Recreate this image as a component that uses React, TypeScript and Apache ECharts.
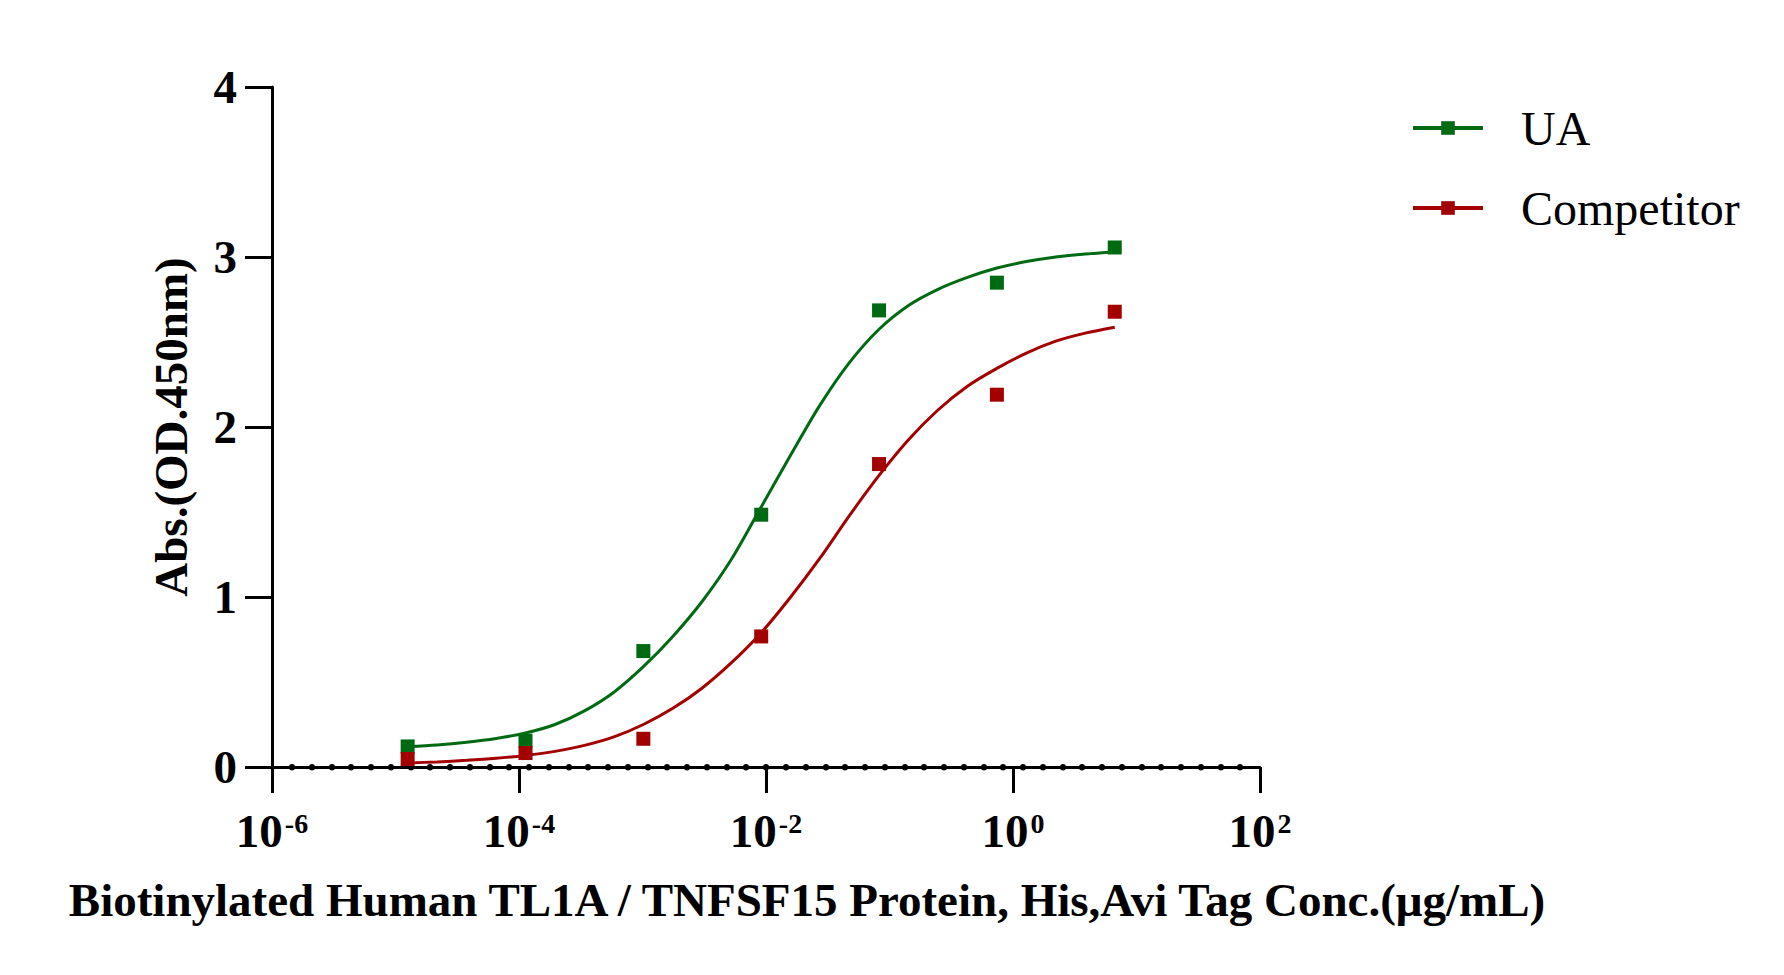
import React, { useEffect, useRef } from "react";
import * as echarts from "echarts";

// Concentrations (µg/mL) of the measured points
const concentrations = [1.254e-5, 1.129e-4, 1.016e-3, 9.145e-3, 0.0823, 0.7407, 6.667];
const uaValues = [0.121, 0.155, 0.682, 1.484, 2.686, 2.849, 3.056];
const competitorValues = [0.047, 0.082, 0.166, 0.768, 1.782, 2.19, 2.678];

// Fitted curves
const curveConc = [
  1.254e-5, 2.173e-5, 3.764e-5, 6.519e-5, 1.129e-4, 1.956e-4, 3.387e-4, 5.867e-4,
  1.016e-3, 1.76e-3, 3.048e-3, 5.28e-3, 9.145e-3, 1.584e-2, 2.743e-2, 4.751e-2,
  8.23e-2, 0.1425, 0.2469, 0.4276, 0.7407, 1.283, 2.222, 3.849, 6.667,
];
const uaCurve = [
  0.12, 0.13, 0.146, 0.168, 0.2, 0.25, 0.33, 0.44, 0.59, 0.768, 0.975, 1.225,
  1.53, 1.835, 2.13, 2.38, 2.575, 2.715, 2.81, 2.88, 2.935, 2.973, 3.0, 3.018, 3.03,
];
const competitorCurve = [
  0.024, 0.03, 0.039, 0.051, 0.068, 0.092, 0.127, 0.177, 0.25, 0.345, 0.465, 0.615,
  0.79, 1.0, 1.23, 1.48, 1.715, 1.925, 2.1, 2.24, 2.345, 2.435, 2.505, 2.552, 2.587,
];

const seriesNames = ["UA", "Competitor"];
const yTicks = { min: 0, max: 4, interval: 1 };
const xRange = { min: 1e-6, max: 1e2, interval: 2 };
const xTitle = "Biotinylated Human TL1A / TNFSF15 Protein, His,Avi Tag Conc.(μg/mL)";
const yTitle = "Abs.(OD.450nm)";

const GREEN = "#006A12";
const RED = "#A30000";
const FONT = "'Liberation Serif', 'Times New Roman', serif";

export default function App() {
  const ref = useRef<HTMLDivElement>(null);

  useEffect(() => {
    document.body.style.margin = "0";
    if (!ref.current) return;
    const chart = echarts.init(ref.current, null, { renderer: "svg" });

    const pairs = (xs: number[], ys: number[]) => xs.map((x, i) => [x, ys[i]]);

    const option: any = {
      animation: false,
      backgroundColor: "#ffffff",
      grid: { left: 272, right: 524, top: 87, bottom: 208, containLabel: false },
      legend: {
        data: seriesNames,
        orient: "vertical",
        left: 1411,
        top: 103,
        padding: 0,
        itemWidth: 70,
        itemHeight: 17,
        itemGap: 30,
        lineStyle: { width: 4 },
        textStyle: {
          fontFamily: FONT,
          fontSize: 48,
          lineHeight: 50,
          color: "#000",
          padding: [0, 0, 0, 33],
        },
      },
      xAxis: [
        {
          type: "log",
          logBase: 10,
          min: xRange.min,
          max: xRange.max,
          interval: xRange.interval,
          axisLine: { show: true, onZero: false, lineStyle: { color: "#000", width: 3 } },
          axisTick: { show: true, length: 26, lineStyle: { color: "#000", width: 3 } },
          minorTick: { show: false },
          splitLine: { show: false },
          axisLabel: {
            margin: 40,
            formatter: (v: number) => {
              const e = Math.round(Math.log10(v));
              return `{b|10}{s|${e}}`;
            },
            rich: {
              b: {
                fontFamily: FONT,
                fontSize: 47,
                fontWeight: "bold",
                lineHeight: 48,
                color: "#000",
              },
              s: {
                fontFamily: FONT,
                fontSize: 28,
                fontWeight: "bold",
                lineHeight: 34,
                verticalAlign: "top",
                color: "#000",
                padding: [2, 0, 0, 2],
              },
            },
          },
        },
        {
          type: "value",
          min: 0,
          max: 50,
          interval: 50,
          position: "bottom",
          axisLine: { show: false, onZero: false },
          axisTick: { show: false },
          axisLabel: { show: false },
          splitLine: { show: false },
          minorTick: {
            show: true,
            splitNumber: 50,
            length: 0.5,
            lineStyle: { color: "#000", width: 6, cap: "round" },
          },
          minorSplitLine: { show: false },
        },
      ],
      yAxis: {
        type: "value",
        min: yTicks.min,
        max: yTicks.max,
        interval: yTicks.interval,
        name: yTitle,
        nameLocation: "middle",
        nameGap: 78,
        nameTextStyle: {
          fontFamily: FONT,
          fontSize: 47,
          fontWeight: "bold",
          lineHeight: 47,
          color: "#000",
        },
        axisLine: { show: true, lineStyle: { color: "#000", width: 3 } },
        axisTick: { show: true, length: 27, lineStyle: { color: "#000", width: 3 } },
        splitLine: { show: false },
        axisLabel: {
          margin: 35,
          fontFamily: FONT,
          fontSize: 47,
          fontWeight: "bold",
          color: "#000",
        },
      },
      graphic: [
        {
          type: "text",
          x: 807,
          y: 900,
          style: {
            text: xTitle,
            fontFamily: FONT,
            fontSize: 47,
            fontWeight: "bold",
            fill: "#000",
            textAlign: "center",
            textVerticalAlign: "middle",
          },
        },
      ],
      series: [
        {
          name: seriesNames[0],
          type: "line",
          xAxisIndex: 0,
          data: pairs(curveConc, uaCurve),
          smooth: 0.3,
          symbol: "rect",
          symbolSize: 14,
          showSymbol: false,
          lineStyle: { color: GREEN, width: 3 },
          itemStyle: { color: GREEN },
          z: 2,
        },
        {
          name: seriesNames[1],
          type: "line",
          xAxisIndex: 0,
          data: pairs(curveConc, competitorCurve),
          smooth: 0.3,
          symbol: "rect",
          symbolSize: 14,
          showSymbol: false,
          lineStyle: { color: RED, width: 3 },
          itemStyle: { color: RED },
          z: 2,
        },
        {
          name: seriesNames[0],
          type: "scatter",
          xAxisIndex: 0,
          data: pairs(concentrations, uaValues),
          symbol: "rect",
          symbolSize: 14,
          itemStyle: { color: GREEN, opacity: 1 },
          z: 3,
        },
        {
          name: seriesNames[1],
          type: "scatter",
          xAxisIndex: 0,
          data: pairs(concentrations, competitorValues),
          symbol: "rect",
          symbolSize: 14,
          itemStyle: { color: RED, opacity: 1 },
          z: 3,
        },
      ],
    };

    chart.setOption(option);
    return () => chart.dispose();
  }, []);

  return <div ref={ref} style={{ width: 1784, height: 975 }} />;
}
